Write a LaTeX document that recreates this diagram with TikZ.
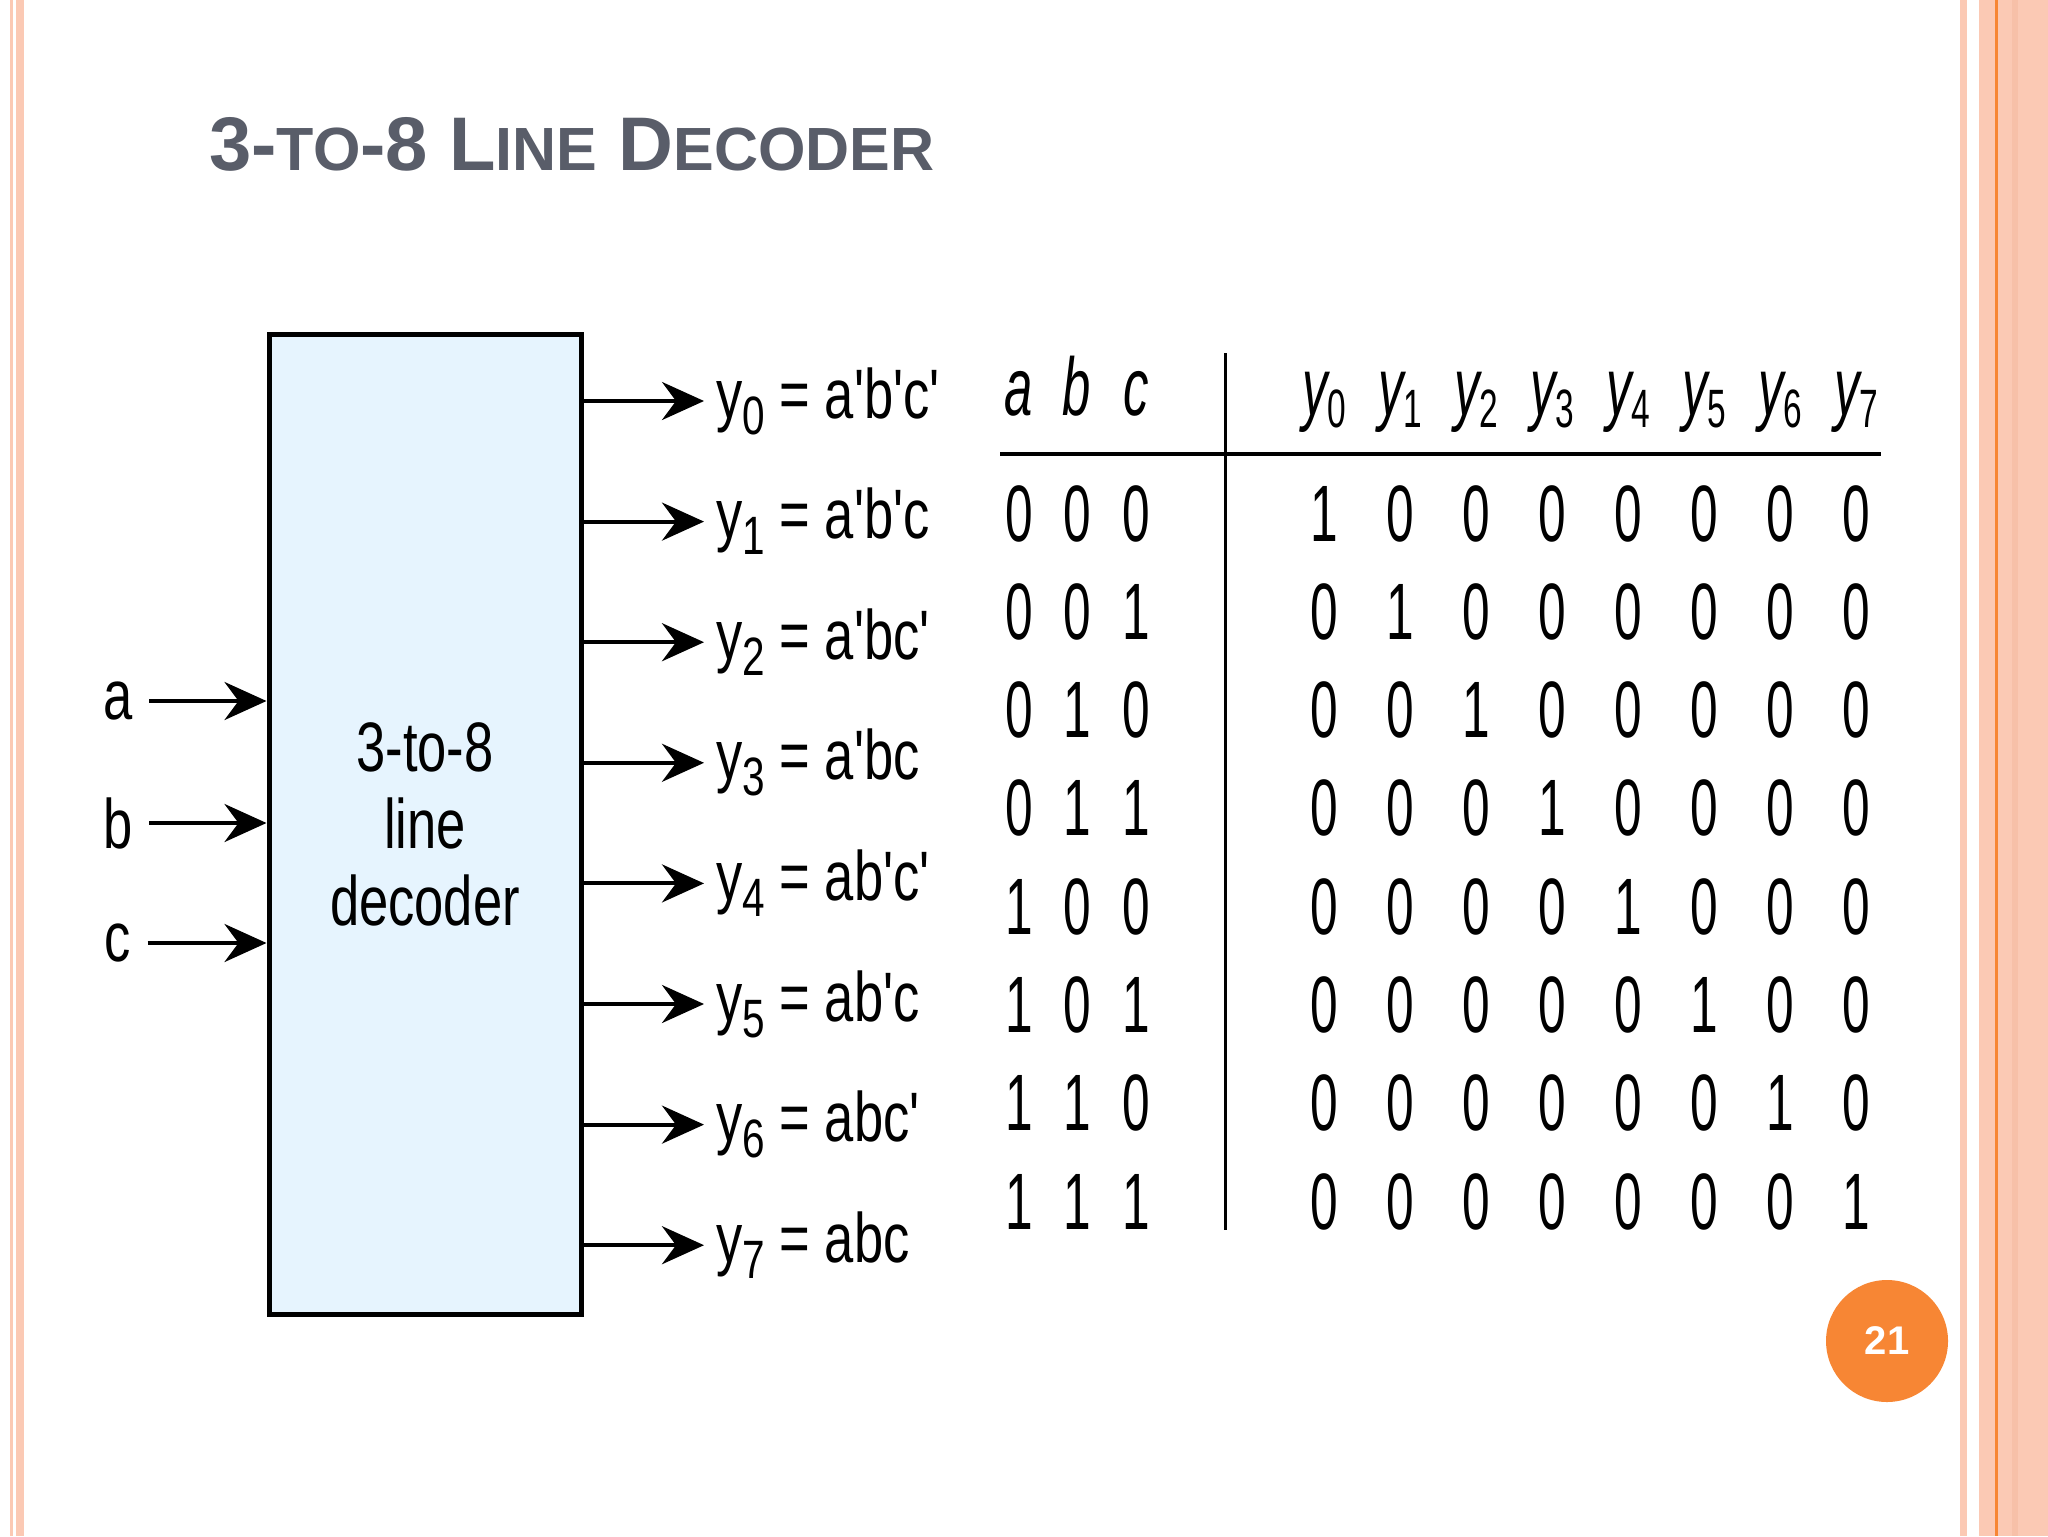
\documentclass[tikz,border=0pt]{standalone}
\usepackage{fontspec}
\setmainfont{Liberation Sans}
\newfontfamily\diafont[FakeStretch=0.75, Ligatures=TeXOff]{Liberation Sans}
\newfontfamily\tabfont[FakeStretch=0.62]{Liberation Sans}
\usepackage{tikz}
\usetikzlibrary{arrows.meta, positioning}
\definecolor{TitleGray}{RGB}{89,93,105}
\definecolor{BlockBlue}{RGB}{230,244,254}
\definecolor{Blush}{RGB}{251,201,180}
\definecolor{BlushDark}{RGB}{247,192,168}
\definecolor{PageOrange}{RGB}{247,134,52}
\newcommand{\ttlsmall}[1]{{\fontsize{30.5}{31}\selectfont #1}}
\newcommand{\ysub}[1]{y\raisebox{-8pt}{\fontsize{27}{27}\selectfont #1}}
\newcommand{\tsub}[1]{\raisebox{-6pt}{\fontsize{27}{27}\selectfont\upshape #1}}

\begin{document}
\begin{tikzpicture}[x=0.5pt, y=-0.5pt,
    arr/.style={-{Stealth[length=21pt,width=19pt,inset=7pt]}, line width=2pt},
    lbl/.style={font=\diafont\fontsize{35}{38.5}\selectfont, inner sep=0pt},
    hdr/.style={font=\tabfont\itshape\fontsize{41}{41}\selectfont, anchor=base, inner sep=0pt},
    bit/.style={font=\tabfont\fontsize{40}{40}\selectfont, anchor=base, inner sep=0pt}]
    % slide background and side stripes
    \fill[white] (0,0) rectangle (2048,1536);
    \useasboundingbox (0,0) rectangle (2048,1536);
    \fill[Blush] (10,0) rectangle (13,1536);
    \fill[Blush] (16,0) rectangle (24,1536);
    \fill[Blush] (1960,0) rectangle (1967,1536);
    \fill[Blush] (1979,0) rectangle (2048,1536);
    \fill[BlushDark] (2012,0) rectangle (2018,1536);
    \fill[PageOrange] (1995,0) rectangle (1998,1536);

    % title
    \node[anchor=base west, inner sep=0pt, text=TitleGray, font=\bfseries\fontsize{38}{40}\selectfont] (title) at (209,170)
        {3-\ttlsmall{TO}-8 L\ttlsmall{INE} D\ttlsmall{ECODER}};

    % decoder block
    \node[lbl, draw, line width=2.5pt, fill=BlockBlue, minimum width=156pt, minimum height=490pt, align=center] (dec) at (425,824)
        {3-to-8\\line\\decoder};

    % inputs
    \foreach \n/\yy in {a/701, b/823, c/943} {
        \node[lbl, inner xsep=8pt] (in\n) at (118,\yy) {\n};
        \draw[arr] (in\n.east) -- (dec.west |- in\n.east);
    }

    % outputs
    \foreach \k/\expr in {0/a'b'c', 1/a'b'c, 2/a'bc', 3/a'bc, 4/ab'c', 5/ab'c, 6/abc', 7/abc} {
        \node[lbl, anchor=west, inner xsep=6pt] (y\k) at (704,{401+\k*120.6}) {\ysub{\k} = \expr};
        \draw[arr] (dec.east |- y\k.west) -- (y\k.west);
    }

    % truth table
    \node[hdr] (ha) at (1019,415) {a};
    \node[hdr] (hb) at (1077,415) {b};
    \node[hdr] (hc) at (1136,415) {c};
    \foreach \k in {0,...,7}
        \node[hdr] (hy\k) at ({1324+\k*76},415) {y\tsub{\k}};
    \draw[line width=2pt] (1000,454) -- (1881,454);
    \draw[line width=1.5pt] (1225,353) -- (1225,1230);
    \foreach \r in {0,...,7} {
        \pgfmathtruncatemacro\ba{\r/4}
        \pgfmathtruncatemacro\bb{mod(\r,4)/2}
        \pgfmathtruncatemacro\bc{mod(\r,2)}
        \node[bit] (ra\r) at (1019,{541+\r*98.3}) {\ba};
        \node[bit] (rb\r) at (1077,{541+\r*98.3}) {\bb};
        \node[bit] (rc\r) at (1136,{541+\r*98.3}) {\bc};
        \foreach \k in {0,...,7}
            \node[bit] (v\r\k) at ({1324+\k*76},{541+\r*98.3}) {\ifnum\k=\r\relax 1\else 0\fi};
    }

    % page number
    \node[circle, fill=PageOrange, minimum size=61pt, inner sep=0pt, text=white, font=\bfseries\fontsize{20}{20}\selectfont] (pg) at (1887,1341) {21};
\end{tikzpicture}
\end{document}
